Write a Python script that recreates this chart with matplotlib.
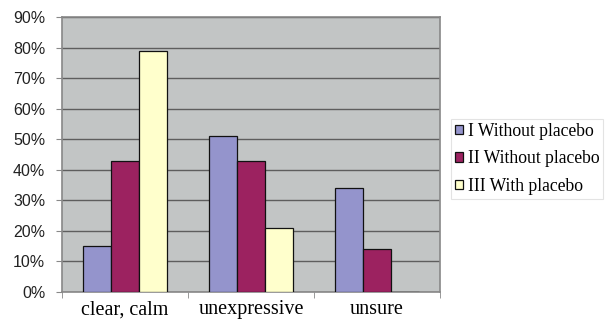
import numpy as np
import matplotlib.pyplot as plt
from matplotlib.ticker import PercentFormatter

categories = ["clear, calm", "unexpressive", "unsure"]
series = ["I Without placebo", "II Without placebo", "III With placebo"]
vals_I = [15, 51, 34]
vals_II = [43, 43, 14]
vals_III = [79, 21, 0]
colors = ["#9494CC", "#9C2260", "#FFFFCC"]

fig = plt.figure(figsize=(6.14, 3.29), dpi=100)
ax = fig.add_axes([62 / 614, 1 - 292 / 329, 378 / 614, 275 / 329])
ax.set_facecolor("#C2C5C5")

x = np.arange(len(categories))
w = 0.222
for i, (vals, lab) in enumerate(zip([vals_I, vals_II, vals_III], series)):
    ax.bar(x + (i - 1) * w, vals, w, color=colors[i], edgecolor="#111111",
           linewidth=0.9, label=lab, zorder=3)

ax.set_xlim(-0.5, 2.5)
ax.set_ylim(0, 90)
ax.set_yticks(range(0, 91, 10))
ax.yaxis.set_major_formatter(PercentFormatter(decimals=0))
ax.yaxis.grid(True, color="#5E5E5E", linewidth=1.0, zorder=0)
ax.set_xticks(x)
ax.set_xticklabels(categories, fontfamily="Liberation Serif", fontsize=14.5)
ax.set_xticks([-0.5, 0.5, 1.5, 2.5], minor=True)
ax.tick_params(axis="x", which="major", length=0, pad=6)
ax.tick_params(axis="x", which="minor", length=4, color="#888888")
ax.tick_params(axis="y", length=4, color="#888888", labelsize=11.5, pad=8)
for t in ax.get_yticklabels():
    t.set_fontfamily("Liberation Sans")
    t.set_color("#222222")
for s in ax.spines.values():
    s.set_color("#888888")
    s.set_linewidth(1.2)

leg = ax.legend(loc="center left", bbox_to_anchor=(1.03, 0.484),
                prop={"family": "Liberation Serif", "size": 12.7},
                handlelength=0.45, handleheight=0.45, handletextpad=0.3,
                labelspacing=0.6, borderpad=0.2, fancybox=False,
                frameon=True, borderaxespad=0)
leg.get_frame().set_edgecolor("#DDDDDD")
leg.get_frame().set_linewidth(0.8)

fig.savefig("out.png", dpi=100)
